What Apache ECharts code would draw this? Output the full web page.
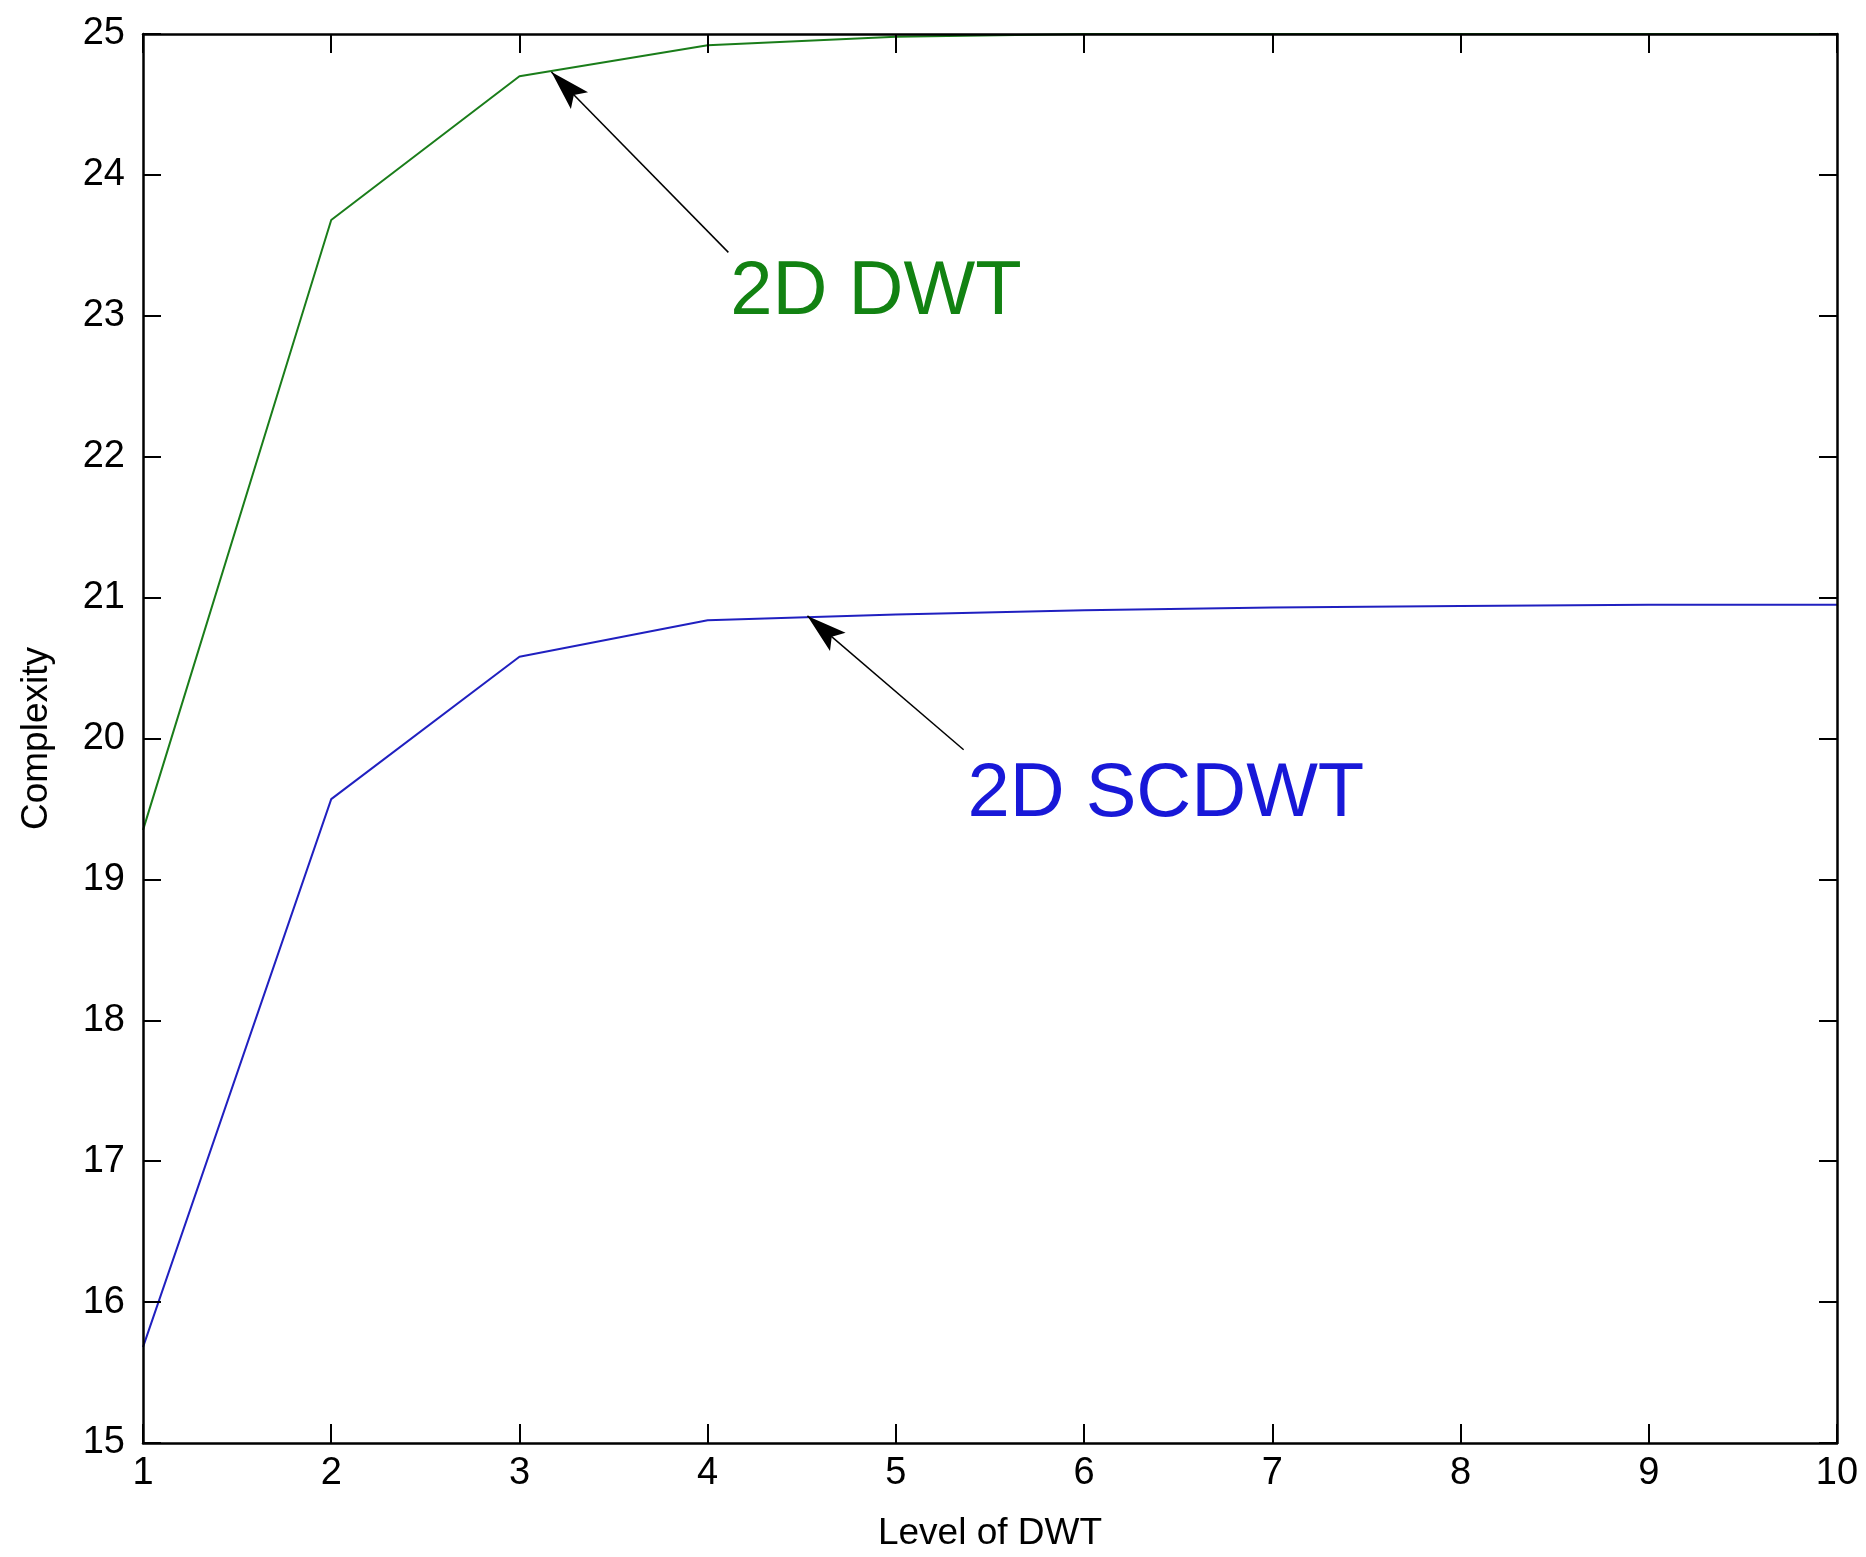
<!DOCTYPE html>
<html>
<head>
<meta charset="utf-8">
<title>Complexity vs Level of DWT</title>
<script src="https://cdn.jsdelivr.net/npm/echarts@6/dist/echarts.min.js"></script>
<style>
  html, body { margin: 0; padding: 0; background: #fff; }
  #chart { width: 1866px; height: 1557px; }
</style>
</head>
<body>
<div id="chart"></div>
<script>
// levels of the transform
const levels = [1, 2, 3, 4, 5, 6, 7, 8, 9, 10];
// complexity of the plain 2D DWT
const dwtValues = [19.35, 23.68, 24.70, 24.92, 24.98, 25.0, 25.0, 25.0, 25.0, 25.0];
// complexity of the 2D SCDWT
const scdwtValues = [15.68, 19.57, 20.58, 20.84, 20.88, 20.91, 20.93, 20.94, 20.95, 20.95];

// arrow annotations: [tail, head] in data coordinates
const dwtArrow = [[4.11, 23.45], [3.17, 24.73]];
const scdwtArrow = [[5.36, 19.92], [4.53, 20.87]];
// text annotations: left edge / vertical middle in data coordinates
const dwtTextAt = [4.12, 23.16];
const scdwtTextAt = [5.38, 19.60];

const fontFamily = '"Liberation Sans", Arial, Helvetica, sans-serif';
const black = '#000';

// arrow head with its tip in the middle of a square box, so it ends on the point
const arrowHead = 'path://M-40,-40 M40,40 M0,0 L12,40 L0,32 L-12,40 Z';

const chart = echarts.init(document.getElementById('chart'));

const toPairs = (xs, ys) => xs.map((x, i) => [x, ys[i]]);

function arrowMarkLine(arrow) {
  return {
    silent: true,
    animation: false,
    symbol: ['none', arrowHead],
    symbolSize: 80,
    label: { show: false },
    lineStyle: { color: black, width: 1.5, type: 'solid' },
    emphasis: { disabled: true },
    data: [[{ coord: arrow[0] }, { coord: arrow[1] }]]
  };
}

function textMarkPoint(at, text, color) {
  return {
    silent: true,
    animation: false,
    symbol: 'circle',
    symbolSize: 0,
    label: {
      show: true,
      position: 'right',
      distance: 0,
      formatter: text,
      color: color,
      fontSize: 76,
      fontFamily: fontFamily
    },
    data: [{ coord: at }]
  };
}

const option = {
  backgroundColor: '#fff',
  animation: false,
  grid: { left: 143, right: 29, top: 34, bottom: 114 },
  xAxis: [
    {
      type: 'value',
      position: 'bottom',
      min: 1,
      max: 10,
      interval: 1,
      z: 5,
      name: 'Level of DWT',
      nameLocation: 'middle',
      nameGap: 72,
      nameTextStyle: { color: black, fontSize: 37, fontFamily: fontFamily },
      axisLine: { show: true, onZero: false, lineStyle: { color: black, width: 2.5 } },
      axisTick: { show: true, inside: true, length: 19, lineStyle: { color: black, width: 2 } },
      axisLabel: { color: black, fontSize: 38, fontFamily: fontFamily, margin: 12 },
      splitLine: { show: false }
    },
    {
      type: 'value',
      position: 'top',
      min: 1,
      max: 10,
      interval: 1,
      z: 5,
      axisLine: { show: true, onZero: false, lineStyle: { color: black, width: 2.5 } },
      axisTick: { show: true, inside: true, length: 19, lineStyle: { color: black, width: 2 } },
      axisLabel: { show: false },
      splitLine: { show: false }
    }
  ],
  yAxis: [
    {
      type: 'value',
      position: 'left',
      min: 15,
      max: 25,
      interval: 1,
      z: 5,
      name: 'Complexity',
      nameLocation: 'middle',
      nameGap: 88,
      nameTextStyle: { color: black, fontSize: 37, fontFamily: fontFamily },
      axisLine: { show: true, onZero: false, lineStyle: { color: black, width: 2.5 } },
      axisTick: { show: true, inside: true, length: 18, lineStyle: { color: black, width: 2 } },
      axisLabel: { color: black, fontSize: 38, fontFamily: fontFamily, margin: 18 },
      splitLine: { show: false }
    },
    {
      type: 'value',
      position: 'right',
      min: 15,
      max: 25,
      interval: 1,
      z: 5,
      axisLine: { show: true, onZero: false, lineStyle: { color: black, width: 2.5 } },
      axisTick: { show: true, inside: true, length: 18, lineStyle: { color: black, width: 2 } },
      axisLabel: { show: false },
      splitLine: { show: false }
    }
  ],
  series: [
    {
      name: '2D DWT',
      type: 'line',
      xAxisIndex: 0,
      yAxisIndex: 0,
      z: 1,
      data: toPairs(levels, dwtValues),
      showSymbol: false,
      lineStyle: { color: '#1a7d1a', width: 2 },
      itemStyle: { color: '#1a7d1a' },
      markLine: arrowMarkLine(dwtArrow),
      markPoint: textMarkPoint(dwtTextAt, '2D DWT', '#128212')
    },
    {
      name: '2D SCDWT',
      type: 'line',
      xAxisIndex: 0,
      yAxisIndex: 0,
      z: 1,
      data: toPairs(levels, scdwtValues),
      showSymbol: false,
      lineStyle: { color: '#2020c0', width: 2 },
      itemStyle: { color: '#2020c0' },
      markLine: arrowMarkLine(scdwtArrow),
      markPoint: textMarkPoint(scdwtTextAt, '2D SCDWT', '#1818d8')
    }
  ]
};

chart.setOption(option);
</script>
</body>
</html>
